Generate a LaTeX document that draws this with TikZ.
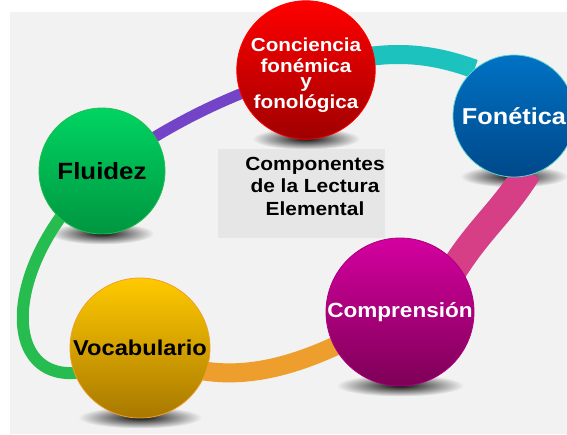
\documentclass[tikz,border=0pt]{standalone}
\usepackage{fontspec}
\setmainfont{Liberation Sans}[FakeStretch=1.1]

\definecolor{bggray}{HTML}{F2F2F2}
\definecolor{boxgray}{HTML}{E6E6E6}
\definecolor{concTop}{HTML}{FF0000}
\definecolor{concBot}{HTML}{A00000}
\definecolor{fonTop}{HTML}{0072C4}
\definecolor{fonBot}{HTML}{00488A}
\definecolor{fluTop}{HTML}{00D462}
\definecolor{fluBot}{HTML}{009640}
\definecolor{vocTop}{HTML}{FFCA00}
\definecolor{vocBot}{HTML}{A87800}
\definecolor{compTop}{HTML}{D400A0}
\definecolor{compBot}{HTML}{7E0056}
\definecolor{purpleband}{HTML}{7444C8}
\definecolor{tealband}{HTML}{1CC2BE}
\definecolor{pinkband}{HTML}{D63E86}
\definecolor{orangeband}{HTML}{EE9E2C}
\definecolor{greenband}{HTML}{26BC50}

\pgfdeclarelayer{back}
\pgfdeclarelayer{links}
\pgfsetlayers{back,links,main}

\begin{document}
\begin{tikzpicture}[x=1pt,y=1pt]
\tikzset{ball/.style = {shape=circle, minimum size=#1, inner sep=0pt, align=center, line width=0.8pt}}
\tikzset{bandedge/.style = {line width=#1}}
\useasboundingbox (0,0) rectangle (567,-434);
% components
\node[ball=122, top color=concTop, bottom color=concBot, draw=concTop, text=white,
  font=\fontsize{18.8}{21}\selectfont\bfseries] (conc) at (306,-70)
  {\rule{0pt}{23pt}Conciencia\\ fonémica\\[-6pt] y\\ fonológica};
\node[ball=122, top color=fonTop, bottom color=fonBot, draw=tealband!70, text=white,
  font=\fontsize{23}{26}\selectfont\bfseries] (fon) at (514,-116) {Fonética};
\node[ball=126, top color=fluTop, bottom color=fluBot, draw=greenband, text=black,
  font=\fontsize{23.5}{26}\selectfont\bfseries] (flu) at (102,-171) {Fluidez};
\node[ball=140, top color=vocTop, bottom color=vocBot, draw=orangeband, text=black,
  font=\fontsize{21.5}{24}\selectfont\bfseries] (voc) at (140,-348) {Vocabulario};
\node[ball=148, top color=compTop, bottom color=compBot, draw=compTop!80!black, text=white,
  font=\fontsize{20.5}{23}\selectfont\bfseries] (comp) at (400,-312) {Comprensión};
\node[align=center, font=\fontsize{19}{22.5}\selectfont\bfseries] (title) at (315,-186)
  {Componentes\\ de la Lectura\\ Elemental};

% background and shadows
\begin{pgfonlayer}{back}
\fill[white] (0,0) rectangle (567,-434);
\fill[bggray] (10,-12) rectangle (567,-434);
\fill[boxgray] (218,-149) rectangle (385,-238);
\foreach \n/\w in {conc/54, fon/54, flu/52, voc/62, comp/64}
  \shade[inner color=black!95, outer color=bggray] ([yshift=1pt]\n.south) ellipse [x radius=\w, y radius=11];
\end{pgfonlayer}

%edges
\begin{pgfonlayer}{links}
\draw[bandedge=11, purpleband] (flu.center) to[bend left=8] (conc.center);
\draw[bandedge=19, tealband] (conc.center) to[out=15, in=160] (fon.130);
\draw[bandedge=28, pinkband, shorten <=-6pt, shorten >=-10pt] (fon.-80) to[out=238, in=58] (comp.40);
\draw[bandedge=19, orangeband] (comp.center) to[out=210, in=-30] (voc.center);
\draw[bandedge=12, greenband] (flu.center) to[out=222, in=212, looseness=2.3] (voc.center);
\end{pgfonlayer}
\end{tikzpicture}
\end{document}
